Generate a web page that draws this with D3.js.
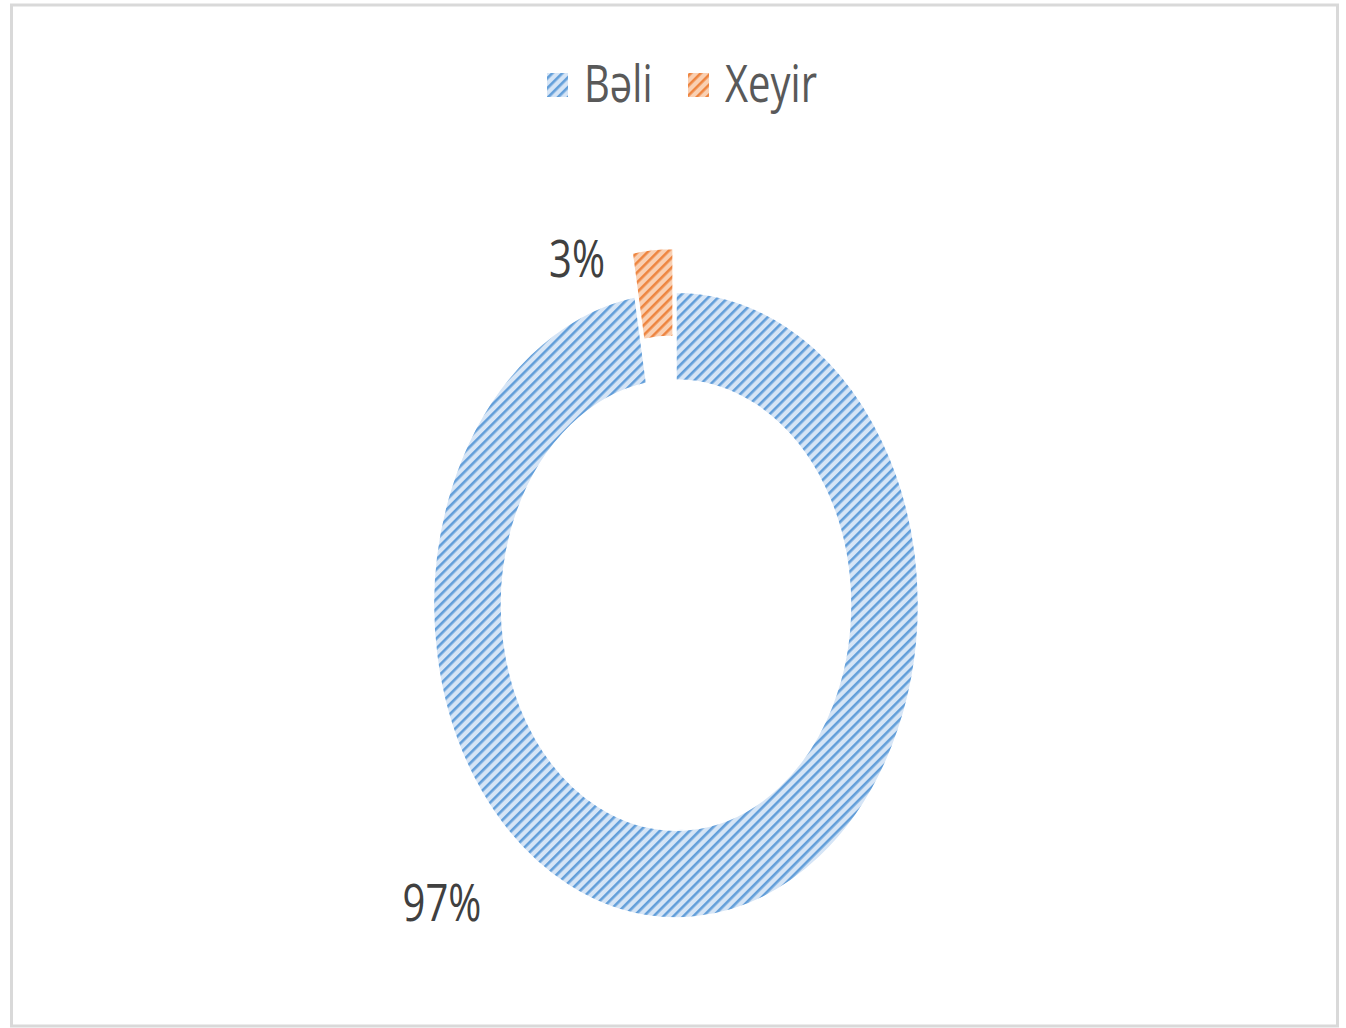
<!DOCTYPE html>
<html>
<head>
<meta charset="utf-8">
<script src="https://cdn.jsdelivr.net/npm/d3@7"></script>
<style>
  body { margin: 0; background: #fff; }
  svg { display: block; }
</style>
</head>
<body>
<div class="chart"></div>
<script>
// data
const categories = ["Bəli", "Xeyir"]
const values = [97.3, 2.7]
const valueLabels = ["97%", "3%"]

// colours: background of the hatch, and the hatch lines
const fills = ["#d6e5f6", "#f9d0b3"]
const hatch = ["#629ed9", "#ee8540"]

let svgWidth = 1346
let svgHeight = 1028

// the donut is squeezed, so it is drawn round and stretched vertically
let cx = 676, cy = 605
let stretch = 1.29
let outerR = 242.5
let innerR = 174.5
let explode = 34

let svg = d3.select('.chart')
    .append('svg')
    .attr('width', svgWidth)
    .attr('height', svgHeight)

// frame
svg.append('rect')
    .attr('x', 11.5).attr('y', 5)
    .attr('width', 1326).attr('height', 1021)
    .attr('fill', '#fff')
    .attr('stroke', '#d9d9d9')
    .attr('stroke-width', 3)

// hatch patterns (one in stretched space for the ring, one in page space for the legend)
let defs = svg.append('defs')
function makePattern(id, i, counter) {
    let t = (counter ? `scale(1,${1 / stretch}) ` : '') + 'rotate(-45)'
    let p = defs.append('pattern')
        .attr('id', id)
        .attr('patternUnits', 'userSpaceOnUse')
        .attr('width', 8).attr('height', 7)
        .attr('patternTransform', t)
    p.append('rect').attr('width', 8).attr('height', 7).attr('fill', fills[i])
    p.append('rect').attr('y', 0).attr('width', 8).attr('height', 2.6).attr('fill', hatch[i])
}
categories.forEach((c, i) => {
    makePattern('ring' + i, i, true)
    makePattern('leg' + i, i, false)
})

let pie = d3.pie().sort(null).value(d => d)
let arcs = pie(values)

let arc = d3.arc()
    .innerRadius(innerR)
    .outerRadius(outerR)

let ring = svg.append('g')
    .attr('transform', `translate(${cx},${cy}) scale(1,${stretch})`)

ring.selectAll('path')
    .data(arcs)
    .enter()
    .append('path')
    .attr('d', arc)
    .attr('transform', (d, i) => {
        if (i !== 1) return null
        let mid = (d.startAngle + d.endAngle) / 2
        return `translate(${Math.sin(mid) * explode},${-Math.cos(mid) * explode})`
    })
    .attr('fill', (d, i) => `url(#ring${i})`)
    .attr('stroke', '#fff')
    .attr('stroke-width', 1.5)
    .attr('vector-effect', 'non-scaling-stroke')

// data labels
let labelPos = [[442, 921], [577, 277]]
valueLabels.forEach((t, i) => {
    svg.append('text')
        .attr('transform', `translate(${labelPos[i][0]},${labelPos[i][1]}) scale(1,${stretch})`)
        .attr('text-anchor', 'middle')
        .attr('font-family', 'Open Sans, sans-serif')
        .attr('font-size', 40)
        .attr('fill', '#404040')
        .text(t)
})

// legend
let legendX = [547, 688]
categories.forEach((c, i) => {
    svg.append('rect')
        .attr('x', legendX[i]).attr('y', 73)
        .attr('width', 21).attr('height', 24)
        .attr('fill', `url(#leg${i})`)
    svg.append('text')
        .attr('transform', `translate(${legendX[i] + 37},102) scale(1,${stretch})`)
        .attr('font-family', 'Open Sans, sans-serif')
        .attr('font-size', 40)
        .attr('fill', '#595959')
        .text(c)
})
</script>
</body>
</html>
